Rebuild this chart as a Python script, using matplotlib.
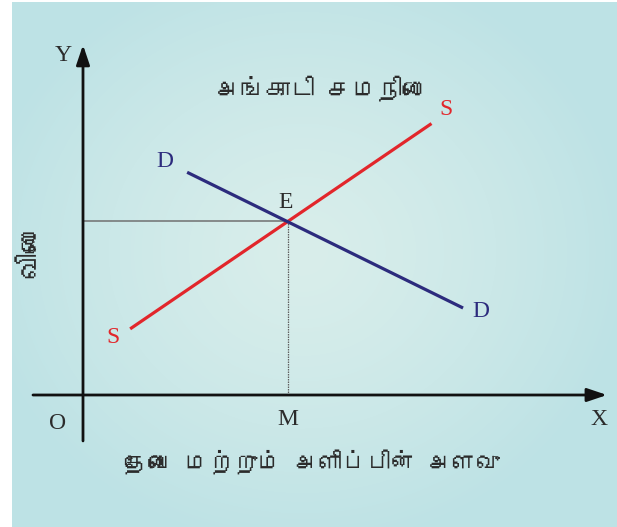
import numpy as np
import matplotlib
matplotlib.use("Agg")
import matplotlib.pyplot as plt
from matplotlib import font_manager
from matplotlib.ft2font import FT2Font

# ---------------- data ----------------
title_text = "அங்காடி சமநிலை"
y_axis_text = "விலை"
x_axis_text = "தேவை மற்றும் அளிப்பின் அளவு"

supply_q = [1.15, 8.5]
supply_p = [1.9, 7.8]
demand_q = [2.54, 9.27]
demand_p = [6.4, 2.5]
equilibrium_q = 5.0
equilibrium_p = 5.0

# ---------------- fonts ----------------
tamil_family = None
for f in font_manager.fontManager.ttflist:
    try:
        if 0x0B85 in FT2Font(f.fname).get_charmap():
            tamil_family = f.name
            break
    except Exception:
        pass
tamil_fonts = ([tamil_family] if tamil_family else []) + ["DejaVu Sans"]
serif = ["Liberation Serif", "DejaVu Serif"]

W, H = 617, 527
fig = plt.figure(figsize=(W / 100, H / 100), dpi=100)
fig.patch.set_facecolor("white")

# background panel with soft radial glow
bg = fig.add_axes([0, 0, 1, 1])
bg.set_xlim(0, W)
bg.set_ylim(H, 0)
bg.axis("off")
ny, nx = 525, 605
yy, xx = np.mgrid[0:ny, 0:nx]
cx, cy = 290, 250
r = np.sqrt(((xx - cx) / 330.0) ** 2 + ((yy - cy) / 300.0) ** 2)
t = np.clip(r, 0, 1) ** 1.3
c_in = np.array([217, 238, 235]) / 255
c_out = np.array([189, 226, 229]) / 255
img = c_in[None, None, :] * (1 - t[..., None]) + c_out[None, None, :] * t[..., None]
bg.imshow(img, extent=(12, W, H, 2), aspect="auto", interpolation="bilinear")

# main axes in data units
ax = fig.add_axes([0, 0, 1, 1])
ax.patch.set_alpha(0)
ax.axis("off")
xu, yu = 41.0, 34.8
ox, oy = 83, 395
ax.set_xlim(-ox / xu, (W - ox) / xu)
ax.set_ylim((oy - H) / yu, oy / yu)

axis_col = "#111111"
head = "-|>,head_length=0.8,head_width=0.27"
ax.annotate("", xy=(0, 10.06), xytext=(0, -1.32),
            arrowprops=dict(arrowstyle=head, lw=2.0, color=axis_col,
                            mutation_scale=15, shrinkA=0, shrinkB=0))
ax.annotate("", xy=(12.78, 0), xytext=(-1.22, 0),
            arrowprops=dict(arrowstyle=head, lw=2.0, color=axis_col,
                            mutation_scale=15, shrinkA=0, shrinkB=0))

# guide lines
ax.plot([0, equilibrium_q], [equilibrium_p, equilibrium_p], color="#707070", lw=1.1)
ax.plot([equilibrium_q, equilibrium_q], [equilibrium_p, 0], color="#606060", lw=0.9,
        linestyle=(0, (1.2, 0.8)))

# curves
ax.plot(supply_q, supply_p, color="#e2262b", lw=2.3, solid_capstyle="butt")
ax.plot(demand_q, demand_p, color="#2c2b7d", lw=2.3, solid_capstyle="butt")

tc = "#2b2b2b"
fs = 17
ax.text(-0.49, 9.77, "Y", fontsize=fs, family=serif, color=tc, ha="center", va="center")
ax.text(-0.63, -0.83, "O", fontsize=fs, family=serif, color=tc, ha="center", va="center")
ax.text(equilibrium_q, -0.69, "M", fontsize=fs, family=serif, color=tc, ha="center", va="center")
ax.text(12.59, -0.69, "X", fontsize=fs, family=serif, color=tc, ha="center", va="center")
ax.text(4.95, 5.52, "E", fontsize=fs, family=serif, color=tc, ha="center", va="center")
ax.text(2.0, 6.7, "D", fontsize=fs, family=serif, color="#2c2b7d", ha="center", va="center")
ax.text(9.71, 2.39, "D", fontsize=fs, family=serif, color="#2c2b7d", ha="center", va="center")
ax.text(0.73, 1.64, "S", fontsize=fs, family=serif, color="#e2262b", ha="center", va="center")
ax.text(8.85, 8.19, "S", fontsize=fs, family=serif, color="#e2262b", ha="center", va="center")

ax.text(5.8, 8.82, title_text, fontsize=18, family=tamil_fonts, color=tc, ha="center", va="center")
ax.text(-1.29, 4.17, y_axis_text, fontsize=20, family=tamil_fonts, color=tc, ha="center",
        va="center", rotation=90)
ax.text(5.59, -1.9, x_axis_text, fontsize=17.5, family=tamil_fonts, color=tc, ha="center", va="center")

fig.savefig("out.png", dpi=100, facecolor="white")
